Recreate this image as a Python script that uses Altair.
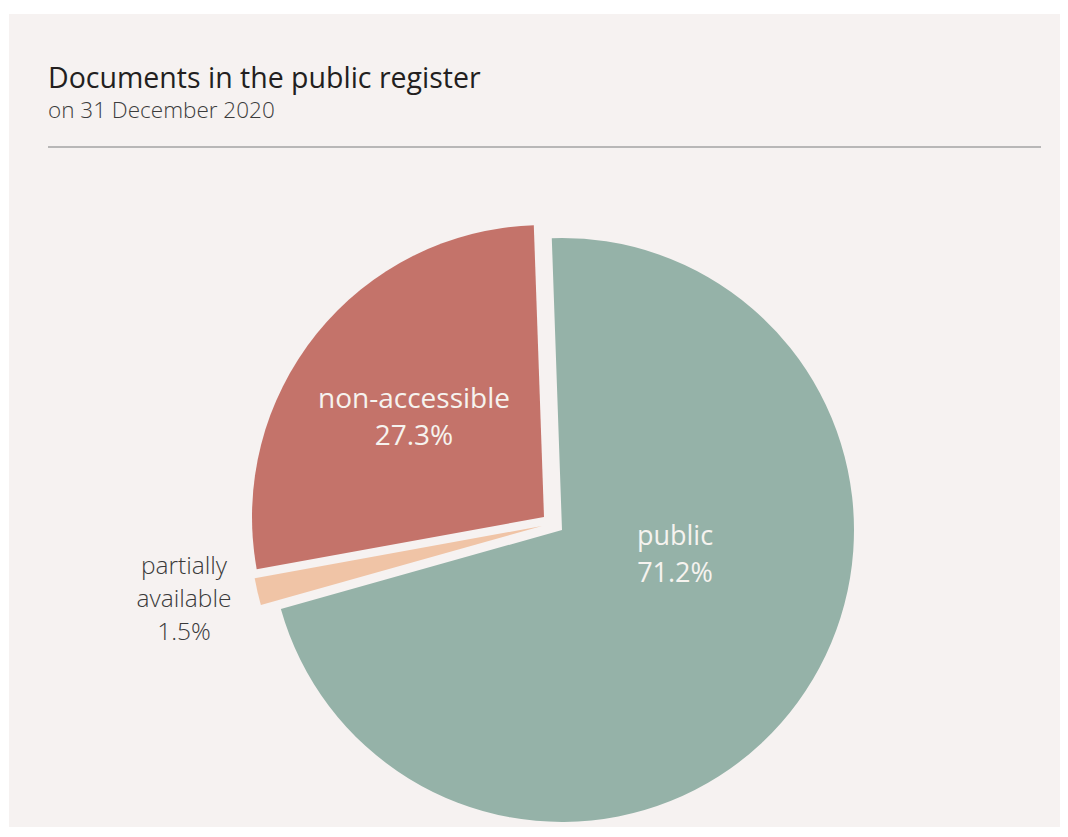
import altair as alt
import pandas as pd

TITLE = "Documents in the public register"
SUBTITLE = "on 31 December 2020"

categories = ["public", "partially available", "non-accessible"]
values = [71.2, 1.5, 27.3]
order = [1, 2, 3]
colors = ["#95b2a8", "#f0c4a6", "#c4736a"]

df = pd.DataFrame({"label": categories, "value": values, "order": order})

base = alt.Chart(df).transform_window(
    cum="sum(value)", sort=[alt.SortField("order")]
).transform_calculate(
    start="datum.cum - datum.value",
    lines="split(datum.label + ' ' + format(datum.value, '.1f') + '%', ' ')",
)

theta_scale = alt.Scale(domain=[0, 100], range=[-0.035, 6.2832 - 0.035])

def slice_layer(cat, color, cx, cy):
    return base.transform_filter(alt.datum.label == cat).mark_arc(
        radius=292, x=cx, y=cy, color=color, stroke=None
    ).encode(
        theta=alt.Theta("start:Q", scale=theta_scale),
        theta2="cum:Q",
    )

def label_layer(cat, x, y, color, size, lh, weight):
    return base.transform_filter(alt.datum.label == cat).mark_text(
        x=x, y=y, align="center", baseline="alphabetic", font="Open Sans",
        fontSize=size, lineHeight=lh, color=color, fontWeight=weight,
    ).encode(text="lines:N")

pub = slice_layer("public", colors[0], 553, 516)
part = slice_layer("partially available", colors[1], 533, 512)
nonacc = slice_layer("non-accessible", colors[2], 535, 503)

lab_pub = label_layer("public", 666, 531, "#f6f3ef", 27, 37, 400)
lab_non = label_layer("non-accessible", 405, 394, "#f6f3ef", 28, 37, 400)
lab_part = label_layer("partially available", 175, 560, "#3a3a3a", 24.5, 33, 300)

title_df = pd.DataFrame({"t": [TITLE]})
sub_df = pd.DataFrame({"t": [SUBTITLE]})

title = alt.Chart(title_df).mark_text(
    x=39, y=74, align="left", baseline="alphabetic", font="Open Sans",
    fontSize=28.5, color="#231f20", fontWeight=400,
).encode(text="t:N")
subtitle = alt.Chart(sub_df).mark_text(
    x=39, y=104, align="left", baseline="alphabetic", font="Open Sans",
    fontSize=22.5, color="#3c3c3c", fontWeight=300,
).encode(text="t:N")

rule = alt.Chart(title_df).mark_rule(color="#a3a3a3", strokeWidth=1.5).encode(
    x=alt.value(39), x2=alt.value(1032), y=alt.value(133)
)

chart = alt.layer(
    pub, part, nonacc, lab_pub, lab_non, lab_part, title, subtitle, rule
).properties(
    width=1051, height=813,
    padding={"left": 1, "top": 6, "right": 0, "bottom": 0},
    autosize=alt.AutoSizeParams(type="none"),
    background="#ffffff",
).configure_view(fill="#f6f2f1", stroke=None)

chart.save("out.html", embed_options={"renderer": "svg", "actions": False})
